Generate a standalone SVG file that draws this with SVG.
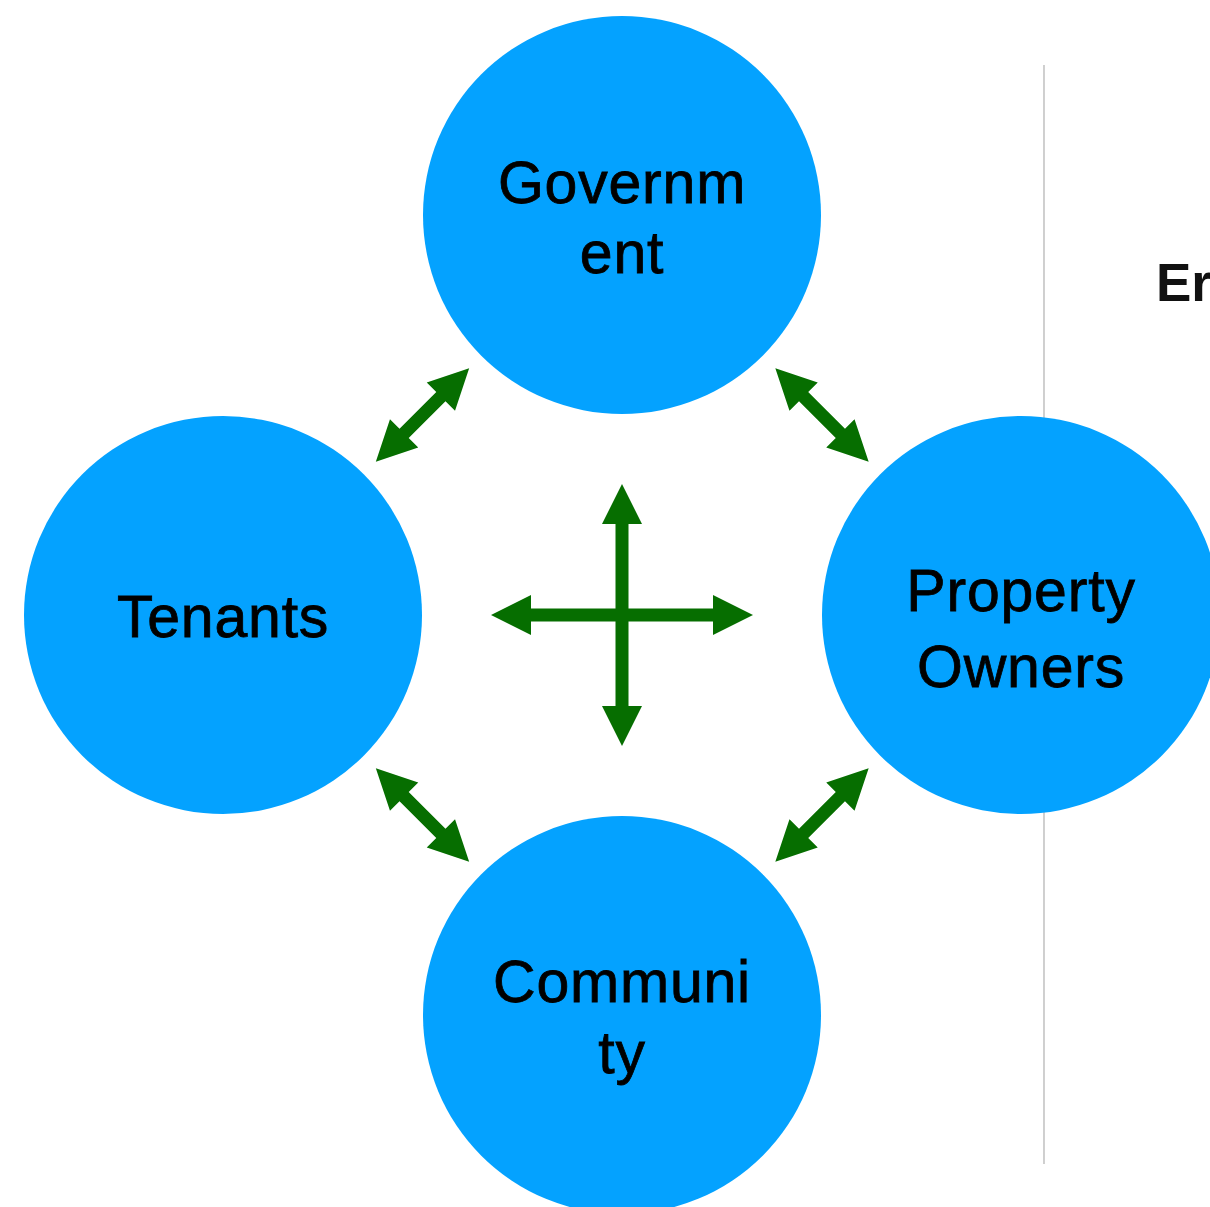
<svg xmlns="http://www.w3.org/2000/svg" width="1210" height="1207" viewBox="0 0 1210 1207">
<style>
.node{fill:#04a2ff}
.lbl{font-family:"Liberation Sans",Arial,Helvetica,sans-serif;font-size:59px;letter-spacing:0.8px;fill:#000;text-anchor:middle;stroke:#000;stroke-width:0.8px}
.arr{fill:#066e00}
.side{font-family:"Liberation Sans",Arial,Helvetica,sans-serif;font-size:53px;font-weight:bold;fill:#111}
</style>
<defs>
<path id="dbl-short" d="M-66,0 L-26,-20 L-26,-6.5 L26,-6.5 L26,-20 L66,0 L26,20 L26,6.5 L-26,6.5 L-26,20 Z"/>
<path id="dbl-long" d="M-131,0 L-91,-20 L-91,-6.5 L91,-6.5 L91,-20 L131,0 L91,20 L91,6.5 L-91,6.5 L-91,20 Z"/>
</defs>
<rect width="1210" height="1207" fill="#fff"/>
<line x1="1044" y1="65" x2="1044" y2="1164" stroke="#c4c4c4" stroke-width="1.6"/>
<text class="side" x="1156" y="301">Er</text>
<g id="government">
<circle class="node" cx="622" cy="215" r="199"/>
<text class="lbl" x="622" y="203">Governm</text>
<text class="lbl" x="622" y="273">ent</text>
</g>
<g id="tenants">
<circle class="node" cx="223" cy="615" r="199"/>
<text class="lbl" x="223" y="637">Tenants</text>
</g>
<g id="property-owners">
<circle class="node" cx="1021" cy="615" r="199"/>
<text class="lbl" x="1021" y="611">Property</text>
<text class="lbl" x="1021" y="687">Owners</text>
</g>
<g id="community">
<circle class="node" cx="622" cy="1015" r="199"/>
<text class="lbl" x="622" y="1002">Communi</text>
<text class="lbl" x="622" y="1073">ty</text>
</g>
<g id="connectors" class="arr">
<use href="#dbl-short" transform="translate(422.5,415) rotate(-45)"/>
<use href="#dbl-short" transform="translate(822,415) rotate(45)"/>
<use href="#dbl-short" transform="translate(422.5,815) rotate(45)"/>
<use href="#dbl-short" transform="translate(822,815) rotate(-45)"/>
<use href="#dbl-long" transform="translate(622,615)"/>
<use href="#dbl-long" transform="translate(622,615) rotate(90)"/>
</g>
</svg>
